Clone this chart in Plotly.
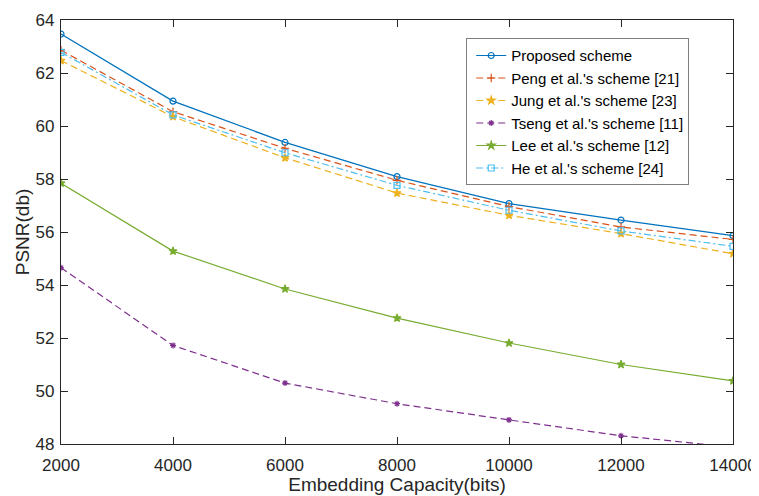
import plotly.graph_objects as go

capacity = [2000, 4000, 6000, 8000, 10000, 12000, 14000]

proposed = [63.47, 60.94, 59.38, 58.09, 57.07, 56.45, 55.86]
peng = [62.86, 60.54, 59.16, 57.95, 56.96, 56.19, 55.72]
jung = [62.47, 60.35, 58.80, 57.47, 56.63, 55.94, 55.18]
tseng = [54.65, 51.72, 50.30, 49.52, 48.91, 48.31, 47.88]
lee = [57.84, 55.28, 53.85, 52.75, 51.81, 51.00, 50.38]
he = [62.78, 60.42, 58.99, 57.76, 56.82, 56.04, 55.46]

series_names = [
    "Proposed scheme",
    "Peng et al.'s scheme [21]",
    "Jung et al.'s scheme [23]",
    "Tseng et al.'s scheme [11]",
    "Lee et al.'s scheme [12]",
    "He et al.'s scheme [24]",
]
series_values = [proposed, peng, jung, tseng, lee, he]
colors = ["#0072BD", "#D95319", "#EDB120", "#7E2F8E", "#77AC30", "#4DBEEE"]
dashes = ["solid", "7px,4px", "7px,4px", "7px,4px", "solid", "7px,3px,2px,3px"]
symbols = ["circle-open", "cross-thin-open", "star", "asterisk-open", "star", "square-open"]
msizes = [6, 6, 6, 5, 6, 6]

x_ticks = [2000, 4000, 6000, 8000, 10000, 12000, 14000]
y_ticks = [48, 50, 52, 54, 56, 58, 60, 62, 64]

fig = go.Figure()
for name, vals, c, d, s, ms in zip(series_names, series_values, colors, dashes, symbols, msizes):
    fig.add_trace(go.Scatter(
        x=capacity, y=vals, name=name, mode="lines+markers",
        line=dict(color=c, width=1.2, dash=d),
        marker=dict(symbol=s, size=ms, color=c, line=dict(color=c, width=1.2)),
    ))

axis_common = dict(
    showline=True, linecolor="#262626", linewidth=1.2, mirror="ticks",
    ticks="inside", ticklen=7, tickcolor="#262626", tickwidth=1.2,
    showgrid=False, zeroline=False, automargin=False,
    tickfont=dict(family="Liberation Sans, Arial", size=17, color="#262626"),
)

# page body has an 8px default margin; figure sized so it fits in the window
fig.update_layout(
    width=751, height=488,
    margin=dict(l=53, r=26, t=12, b=52),
    plot_bgcolor="white", paper_bgcolor="white",
    font=dict(family="Liberation Sans, Arial", color="#262626"),
    xaxis=dict(range=[2000, 14000], tickvals=x_ticks,
               ticktext=[str(v) for v in x_ticks], ticklabelstandoff=5,
               title=dict(text="Embedding Capacity(bits)", font=dict(size=19), standoff=3),
               **axis_common),
    yaxis=dict(range=[48, 64], tickvals=y_ticks,
               ticktext=[str(v) for v in y_ticks], ticklabelstandoff=2,
               title=dict(text="PSNR(db)", font=dict(size=19), standoff=0),
               **axis_common),
    legend=dict(x=0.603, y=0.957, xanchor="left", yanchor="top",
                bgcolor="white", bordercolor="#7f7f7f", borderwidth=1,
                itemwidth=30, indentation=4,
                font=dict(size=15, color="#000000"), tracegroupgap=0),
    showlegend=True,
)

fig.write_html("out.html")
